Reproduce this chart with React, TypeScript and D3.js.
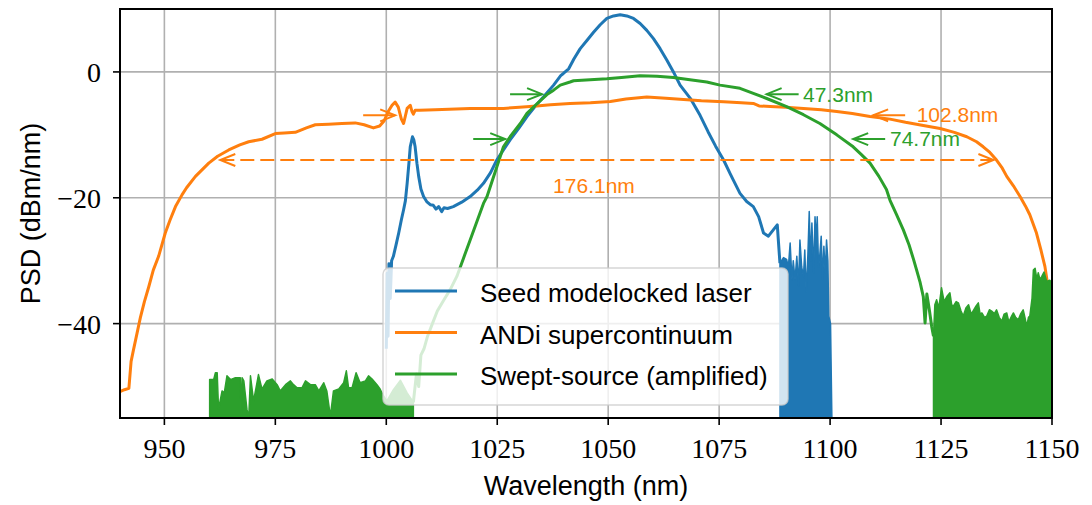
import React from 'react';
import * as d3 from 'd3';

type P = [number, number];

const xTicks = [950, 975, 1000, 1025, 1050, 1075, 1100, 1125, 1150];
const yTicks = [0, -20, -40];
const seriesNames = ['Seed modelocked laser', 'ANDi supercontinuum', 'Swept-source (amplified)'];
const colors = ['#1f77b4', '#ff7f0e', '#2ca02c'];

const seedLine: P[] = [
  [1000.0, -44], [1000.2, -32], [1000.4, -42], [1000.6, -30.5], [1000.9, -36], [1001.2, -30], [1001.6, -29.3],
  [1002.2, -27.5], [1002.8, -25.6], [1003.4, -23.5], [1003.9, -21.9], [1004.3, -20.5], [1004.7, -17.7],
  [1005.1, -14.5], [1005.4, -11.9], [1005.9, -10.3], [1006.2, -10.8], [1006.5, -11.9], [1006.9, -14.5],
  [1007.3, -16.6], [1007.8, -18.6], [1008.4, -19.8], [1009.1, -20.6], [1009.9, -21.1], [1010.6, -21.2],
  [1011.2, -21.8], [1011.8, -21.4], [1012.5, -22.2], [1013.0, -21.6], [1013.8, -21.7], [1015.1, -21.4],
  [1017, -20.7], [1018.9, -19.8], [1020.5, -18.8], [1021.9, -17.7], [1023.5, -16.0], [1024.9, -14.0],
  [1026.4, -12.4], [1027.9, -10.8], [1029.8, -9.0], [1031.7, -7.1], [1033.5, -5.5], [1035.4, -4.0],
  [1037.7, -2.1], [1039.3, -0.6], [1039.9, -0.25], [1041.1, 0.5], [1042.3, 2.1], [1043.7, 3.7],
  [1045.2, 5.0], [1046.7, 6.3], [1048.2, 7.5], [1049.7, 8.5], [1051.2, 8.9], [1052.7, 9.1], [1054.2, 8.9],
  [1055.7, 8.5], [1057.2, 7.7], [1058.7, 6.6], [1060.2, 5.3], [1061.7, 3.7], [1063.2, 1.9], [1064.7, 0],
  [1066.2, -2.1], [1068.5, -4.2], [1070.7, -6.9], [1072.5, -9.5], [1074.2, -11.8], [1076, -14.0],
  [1077.5, -16.2], [1078.2, -17.2], [1079.7, -19.3], [1081.2, -20.6], [1082.7, -21.4], [1083.9, -23.0],
  [1085.0, -25.6], [1086.1, -26.1], [1087.2, -25.1], [1088.1, -24.3], [1088.7, -30.4],
];

const seedNoise: P[] = [
  [1088.7, -30.4], [1089.5, -29.5], [1090.2, -29.8], [1090.6, -31], [1091.0, -27.2], [1091.4, -33],
  [1091.7, -30], [1092.1, -33], [1092.5, -29.3], [1092.9, -34], [1093.2, -26.7], [1093.6, -31],
  [1094.0, -32.5], [1094.3, -28.3], [1094.6, -35], [1095.0, -29], [1095.3, -22.2], [1095.6, -30],
  [1095.9, -24], [1096.3, -32], [1096.6, -23], [1096.9, -27], [1097.1, -23], [1097.4, -31], [1097.6, -29.8],
  [1098.0, -26.1], [1098.3, -33], [1098.6, -27.7], [1098.9, -32], [1099.2, -26.7], [1099.5, -30],
  [1099.7, -38.8], [1100.1, -40], [1100.4, -55],
];

const andiLine: P[] = [
  [940, -50.8], [941, -50.5], [942, -50.3], [942.5, -46], [943, -44.3], [944, -41], [944.6, -39], [945.5, -36.5],
  [946.5, -34.1], [947.5, -31.5], [948.7, -29.3], [950.2, -25.6], [951.3, -23.5], [952.5, -21.4], [954, -19.5],
  [955, -18.4], [957, -16.6], [960, -14.5], [962, -13.4], [964.5, -12.4], [967, -11.6], [969, -11.1],
  [972, -10.7], [975, -9.8], [977, -9.7], [979.5, -9.6], [982, -8.9], [984, -8.4], [987, -8.3], [990, -8.2],
  [993, -8.1], [995, -8.4], [997.1, -8.9], [998.5, -8.6], [999.5, -7.8], [1000.5, -6.2], [1001.3, -5.3],
  [1002, -4.8], [1002.7, -5.6], [1003.4, -7.5], [1003.9, -8.2], [1004.3, -7.0], [1004.7, -5.8],
  [1005.4, -5.3], [1005.8, -6.3], [1006.1, -6.7], [1006.5, -6.1], [1007.5, -6.1], [1011, -6.0],
  [1018.9, -5.8], [1026.4, -5.8], [1030, -5.6], [1033.9, -5.4], [1037, -5.2], [1041.4, -5.0], [1046, -4.9],
  [1050.5, -4.7], [1054, -4.3], [1058.7, -4.0], [1063, -4.2], [1067, -4.4], [1071, -4.6], [1076, -4.75],
  [1080, -4.9], [1082.7, -5.0], [1084, -5.4], [1086.5, -5.5], [1090, -5.6], [1094, -5.8], [1098, -6.0],
  [1101.5, -6.3], [1105, -6.6], [1109, -7.1], [1113.5, -7.5], [1117, -8.0], [1121, -8.5], [1124.8, -9.0],
  [1128, -9.6], [1130.8, -10.3], [1133, -11.1], [1134.5, -11.9], [1136, -12.8], [1137.5, -14.0],
  [1138.8, -15.3], [1139.8, -16.6], [1141.3, -18.1], [1142.8, -19.8], [1144, -21.3], [1145, -22.7],
  [1146.5, -25.6], [1147.5, -28.3], [1148.4, -30.9], [1149.2, -34.6], [1149.5, -33.5], [1150, -34],
];

const sweptLine: P[] = [
  [1006.1, -52.5], [1006.8, -48], [1007.3, -50], [1007.8, -45], [1008.5, -44], [1009.3, -42], [1010.5, -39.8],
  [1011.5, -38], [1013, -36.2], [1014.4, -34.6], [1015.9, -32.5], [1017.4, -29.6], [1018.9, -26.7],
  [1020.4, -23.8], [1021.9, -20.9], [1022.7, -19.8], [1024.9, -15.1], [1026.4, -11.9], [1027.9, -10.3],
  [1030.2, -8.2], [1031.7, -6.6], [1033.9, -5.1], [1036.2, -3.6], [1037.7, -2.9], [1039.2, -2.1],
  [1041.4, -1.6], [1042.2, -1.4], [1045, -1.3], [1049.7, -1.1], [1053, -0.9], [1057.2, -0.6], [1061, -0.7],
  [1064.7, -0.9], [1068, -1.2], [1072.2, -1.6], [1075.2, -2.1], [1079.7, -2.6], [1082.7, -3.4], [1086, -4.3],
  [1090.2, -5.5], [1094, -6.8], [1097.7, -8.2], [1101.5, -10], [1105.2, -11.9], [1107, -13.1], [1109, -14.5],
  [1111, -16.6], [1112.7, -18.7], [1113.5, -20.4], [1115, -22.7], [1116.5, -25.1], [1117.8, -27.5],
  [1118.8, -29.8], [1119.5, -31.5], [1120.3, -33.5], [1121, -35.7], [1121.4, -39.9], [1121.8, -35.3],
  [1122.4, -38], [1122.9, -40.5], [1123.3, -42],
];

const sweptNoiseLeft: P[] = [
  [960.2, -48.9], [960.8, -48.9], [961.1, -48.9], [961.5, -47.8], [961.9, -47.8], [962.2, -53.6], [963.0, -50.7],
  [963.5, -51], [964.1, -48.3], [964.9, -48.9], [966.0, -48.6], [966.6, -48.6], [967.1, -48.6], [967.3, -55],
  [967.5, -48.6], [967.9, -49.1], [968.6, -53.6], [969.0, -55], [969.4, -48.3], [970.1, -52.3], [971.2, -48.1],
  [972.0, -50.4], [973.1, -49.1], [974.3, -48.8], [975.4, -49.7], [976.1, -50.7], [977.3, -49.7], [978.4, -49.1],
  [979.1, -49.7], [979.9, -50.2], [981.0, -50.2], [981.8, -49.1], [982.9, -49.7], [984.0, -49.7], [984.8, -50.7],
  [985.9, -49.4], [986.6, -50.7], [987.4, -54.7], [988.1, -50.7], [989.3, -50.4], [990.4, -49.4], [991.0, -47.5],
  [991.5, -50.2], [992.3, -50.2], [993.2, -47.8], [994.1, -49.4], [995.3, -49.1], [996.0, -48.3], [996.8, -48.8],
  [997.9, -49.7], [998.6, -50.4], [999.4, -51.5], [1000.1, -52.3], [1001.6, -50.5], [1003.2, -49], [1004.7, -51],
  [1006.1, -52.5],
];

const sweptNoiseRight: P[] = [
  [1123.3, -42], [1123.6, -37], [1124.0, -36.2], [1124.5, -37.5], [1125.1, -34.3], [1125.7, -36.5], [1126.3, -35.7],
  [1127.0, -35.1], [1127.4, -37], [1127.8, -37.2], [1128.4, -36.5], [1128.9, -36.7], [1129.5, -38], [1130.0, -38.8],
  [1130.6, -37.5], [1131.2, -37.0], [1131.8, -38.5], [1132.3, -37.9], [1132.9, -37.2], [1133.4, -36.7],
  [1133.8, -38.5], [1134.2, -38.3], [1134.8, -39], [1135.3, -38.8], [1135.9, -37.8], [1136.4, -38.0],
  [1137.0, -38.4], [1137.5, -37.8], [1138.1, -39], [1138.7, -39.6], [1139.2, -38.5], [1139.8, -38.3],
  [1140.2, -39.5], [1140.5, -39.4], [1140.9, -38.8], [1141.3, -38.3], [1141.8, -39], [1142.4, -39.4],
  [1142.9, -38.5], [1143.5, -37.8], [1143.9, -39], [1144.3, -40.4], [1144.7, -39], [1145.0, -38.8],
  [1145.5, -36], [1145.8, -31.5], [1146.2, -31.2], [1146.6, -33], [1146.9, -31.9], [1147.3, -33],
  [1147.7, -32.5], [1148.2, -31.8], [1148.8, -33.3], [1149.5, -33.1], [1150, -33.5],
];

// bandwidth annotations: [leftTip nm, rightTip nm, level dB]
const bwLabels = ['47.3nm', '74.7nm', '102.8nm', '176.1nm'];
const bwSeries = [2, 2, 1, 1];
const bwLeftTip = [1035.1, 1026.8, 1002.0, 962.6];
const bwRightTip = [1085.7, 1105.2, 1109.7, 1136.8];
const bwLevel = [-3.53, -10.67, -6.9, -14.0];
const bwTextPos: P[] = [[1093.9, -4.75], [1113.5, -11.8], [1119.5, -7.9], [1046.8, -19.2]];

const W = 1092, H = 505;
const L = 120, R = 1052, T = 9, B = 418;

export default function App() {
  const x = d3.scaleLinear().domain([940, 1150]).range([L, R]);
  const y = d3.scaleLinear().domain([-55, 10]).range([B, T]);
  const line = d3.line<P>().x(d => x(d[0])).y(d => y(d[1]));
  const area = d3.area<P>().x(d => x(d[0])).y0(y(-55)).y1(d => y(d[1]));
  const serif = "'Liberation Serif', 'DejaVu Serif', serif";
  const sans = "'Liberation Sans', 'DejaVu Sans', sans-serif";
  const arrowLen = 32, headBack = 15, headHalf = 6;

  const arrowHead = (tx: number, ty: number, dir: number, c: string, key: string) => (
    <path key={key} d={`M${tx - dir * headBack},${ty - headHalf} L${tx},${ty} L${tx - dir * headBack},${ty + headHalf}`}
      fill="none" stroke={c} strokeWidth={2} strokeLinejoin="miter" />
  );

  const annotations = bwLabels.map((lab, i) => {
    const c = colors[bwSeries[i]];
    const yy = y(bwLevel[i]);
    const lx = x(bwLeftTip[i]), rx = x(bwRightTip[i]);
    const [tnm, tdb] = bwTextPos[i];
    if (i === 3) {
      return (
        <g key={lab}>
          <line x1={lx} x2={rx} y1={yy} y2={yy} stroke={c} strokeWidth={2.2} strokeDasharray="14,6" />
          {arrowHead(lx, yy, -1, c, 'l')}
          {arrowHead(rx, yy, 1, c, 'r')}
          <text x={x(tnm)} y={y(tdb)} fill={c} fontFamily={sans} fontSize={21} textAnchor="middle">{lab}</text>
        </g>
      );
    }
    return (
      <g key={lab}>
        <line x1={lx - arrowLen} x2={lx} y1={yy} y2={yy} stroke={c} strokeWidth={2} />
        {arrowHead(lx, yy, 1, c, 'l')}
        <line x1={rx} x2={rx + arrowLen} y1={yy} y2={yy} stroke={c} strokeWidth={2} />
        {arrowHead(rx, yy, -1, c, 'r')}
        <text x={x(tnm)} y={y(tdb)} fill={c} fontFamily={sans} fontSize={21}>{lab}</text>
      </g>
    );
  });

  const legX = 383, legY = 268, legW = 405, legH = 137;
  const rowY = [291, 332.5, 374];

  return (
    <svg width={W} height={H} style={{ position: 'absolute', left: 0, top: 0, background: '#fff' }}>
      <defs>
        <clipPath id="plot"><rect x={L} y={T} width={R - L} height={B - T} /></clipPath>
      </defs>
      <rect x={0} y={0} width={W} height={H} fill="#fff" />
      {/* grid */}
      <g stroke="#b0b0b0" strokeWidth={1.6}>
        {xTicks.map(t => <line key={'gx' + t} x1={x(t)} x2={x(t)} y1={T} y2={B} />)}
        {yTicks.map(t => <line key={'gy' + t} x1={L} x2={R} y1={y(t)} y2={y(t)} />)}
      </g>
      <g clipPath="url(#plot)" fill="none" strokeLinejoin="round" strokeLinecap="butt">
        <path d={area(seedNoise) || ''} fill={colors[0]} stroke={colors[0]} strokeWidth={1.5} />
        <path d={line(seedLine) || ''} stroke={colors[0]} strokeWidth={3} />
        <path d={line(andiLine) || ''} stroke={colors[1]} strokeWidth={3} />
        <path d={area(sweptNoiseLeft) || ''} fill={colors[2]} stroke={colors[2]} strokeWidth={1.5} />
        <path d={area(sweptNoiseRight) || ''} fill={colors[2]} stroke={colors[2]} strokeWidth={1.5} />
        <path d={line(sweptLine) || ''} stroke={colors[2]} strokeWidth={3} />
      </g>
      {annotations}
      {/* spines */}
      <rect x={L} y={T} width={R - L} height={B - T} fill="none" stroke="#000" strokeWidth={2} />
      {/* ticks */}
      <g stroke="#000" strokeWidth={1.6}>
        {xTicks.map(t => <line key={'tx' + t} x1={x(t)} x2={x(t)} y1={B} y2={B + 7} />)}
        {yTicks.map(t => <line key={'ty' + t} x1={L - 7} x2={L} y1={y(t)} y2={y(t)} />)}
      </g>
      <g fontFamily={serif} fontSize={28} fill="#000">
        {xTicks.map(t => <text key={'lx' + t} x={x(t)} y={458} textAnchor="middle">{t}</text>)}
        {yTicks.map(t => <text key={'ly' + t} x={101} y={y(t) + 10} textAnchor="end">{t < 0 ? '\u2212' + Math.abs(t) : t}</text>)}
      </g>
      <text x={(L + R) / 2} y={495} textAnchor="middle" fontFamily={sans} fontSize={27}>Wavelength (nm)</text>
      <text transform={`translate(40,${(T + B) / 2}) rotate(-90)`} textAnchor="middle" fontFamily={sans} fontSize={27}>PSD (dBm/nm)</text>
      {/* legend */}
      <rect x={legX} y={legY} width={legW} height={legH} rx={6} ry={6} fill="#fff" fillOpacity={0.8} stroke="#cccccc" strokeOpacity={0.8} strokeWidth={1.5} />
      {seriesNames.map((n, i) => (
        <g key={n}>
          <line x1={395} x2={457} y1={rowY[i]} y2={rowY[i]} stroke={colors[i]} strokeWidth={3} />
          <text x={480} y={rowY[i] + 11} fontFamily={sans} fontSize={26} fill="#000">{n}</text>
        </g>
      ))}
    </svg>
  );
}
